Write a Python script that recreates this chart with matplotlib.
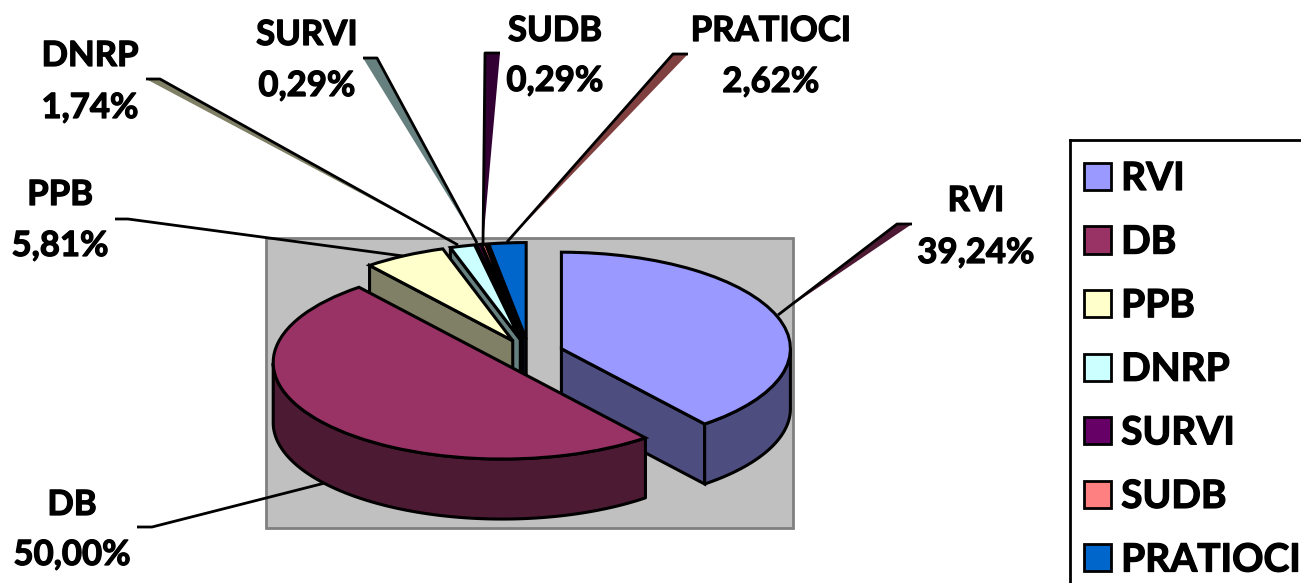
import numpy as np
import matplotlib
matplotlib.use("Agg")
import matplotlib.pyplot as plt
import matplotlib.patheffects as pe
from matplotlib.patches import Patch, Polygon, Rectangle

categories = ["RVI", "DB", "PPB", "DNRP", "SURVI", "SUDB", "PRATIOCI"]
values = [39.24, 50.00, 5.81, 1.74, 0.29, 0.29, 2.62]

colors = ["#9999FF", "#993366", "#FFFFCC", "#CCFFFF", "#660066", "#FF8080", "#0066CC"]
draw_rank = [0, 7, 5, 4, 3, 2, 1]

W, H = 1301, 583
CX, CY, RX, RY, DEPTH = 529.0, 353.5, 229.0, 96.5, 60.0
LW = 2.2

plt.rcParams["font.family"] = ["Lato", "DejaVu Sans"]
plt.rcParams["font.weight"] = "bold"
heavy = [pe.withStroke(linewidth=0.9, foreground="black")]

fig = plt.figure(figsize=(W / 100, H / 100), dpi=100, facecolor="white")

# pixel overlay for plot area, leaders, labels and legend
px = fig.add_axes([0, 0, 1, 1], zorder=1)
px.set_xlim(0, W)
px.set_ylim(H, 0)
px.axis("off")
px.add_patch(Rectangle((266, 238), 527, 290, fc="#C0C0C0", ec="#808080", lw=2.0))

# pie axes: one data unit is RX by RY pixels, so the circle is seen as an ellipse
ax = fig.add_axes([0, 0, 1, 1], zorder=2)
ax.patch.set_alpha(0)
wedges, _ = ax.pie(values, colors=colors, startangle=90, counterclock=False,
                   explode=[0.15] * len(values), radius=1,
                   wedgeprops=dict(edgecolor="black", linewidth=LW))
ax.set_aspect("auto")
ax.set_xlim(-CX / RX, (W - CX) / RX)
ax.set_ylim((CY - H) / RY, CY / RY)
ax.axis("off")
d = DEPTH / RY


def shade(c):
    return tuple(0.5 * v for v in matplotlib.colors.to_rgb(c))


for w, c, rank in zip(wedges, colors, draw_rank):
    z = 10 + 3 * rank
    w.set_zorder(z + 2)
    w.set_joinstyle("miter")
    cx, cy = w.center
    t1, t2 = w.theta1, w.theta2
    dark = shade(c)
    # radial faces turned to the viewer
    for t, visible in ((t2, np.cos(np.radians(t2)) < -1e-6), (t1, np.cos(np.radians(t1)) > 1e-6)):
        if visible:
            ex, ey = cx + np.cos(np.radians(t)), cy + np.sin(np.radians(t))
            ax.add_patch(Polygon([(cx, cy), (ex, ey), (ex, ey - d), (cx, cy - d)],
                                 fc=dark, ec="black", lw=LW, zorder=z, joinstyle="miter"))
    # outer rim wall
    th = np.radians(np.linspace(t1, t2, 300))
    th = th[np.sin(th) <= 0]
    if th.size > 1:
        xs, ys = cx + np.cos(th), cy + np.sin(th)
        pts = np.r_[np.c_[xs, ys], np.c_[xs[::-1], ys[::-1] - d]]
        ax.add_patch(Polygon(pts, fc=dark, ec="black", lw=LW, zorder=z + 1, joinstyle="round"))

# leader lines with their shadow slivers (pixel coordinates)
leaders = [
    ([(912, 224), (897, 224), (778, 315)], "#4D1933", [(897, 224), (912, 224), (785, 310)]),
    ([(115, 219), (128, 219), (403, 256)], None, None),
    ([(137, 527), (152, 527), (325, 483)], None, None),
    ([(146, 79), (160, 79), (458, 245)], "#808066", [(146, 79), (160, 79), (458, 245)]),
    ([(363, 58), (377, 58), (477, 243)], "#668080", [(363, 58), (377, 58), (477, 243)]),
    ([(500, 53), (485, 53), (483, 243)], "#330033", [(485, 53), (500, 53), (483, 243)]),
    ([(688, 54), (673, 54), (507, 242)], "#804040", [(673, 54), (688, 54), (507, 242)]),
]
for line, col, sliver in leaders:
    if sliver:
        px.add_patch(Polygon(sliver, fc=col, ec="none", zorder=3))
    xs, ys = zip(*line)
    px.plot(xs, ys, color="black", lw=2.0, zorder=4, solid_capstyle="butt")

label_pos = {
    "RVI": (976, 201, 253),
    "DB": (72, 505, 555),
    "PPB": (60, 195, 246),
    "DNRP": (90, 56, 108),
    "SURVI": (307, 35, 86),
    "SUDB": (555, 31, 81),
    "PRATIOCI": (771, 31, 82),
}
for name, val in zip(categories, values):
    x, y1, y2 = label_pos[name]
    px.text(x, y1, name, ha="center", va="center", fontsize=25, color="black",
            zorder=5, path_effects=heavy)
    px.text(x, y2, f"{val:.2f}%".replace(".", ","), ha="center", va="center",
            fontsize=25, color="black", zorder=5, path_effects=heavy)

# legend
px.plot([1070, 1070], [H, 140], color="black", lw=2.0, zorder=5)
px.plot([1070, W], [140, 140], color="black", lw=2.0, zorder=5)
handles = [Patch(fc=c, ec="black", lw=2.0) for c in colors]
leg = px.legend(handles, categories, loc="upper left", bbox_to_anchor=(1084 / W, 1 - 161 / H),
                frameon=False, fontsize=28, borderpad=0, borderaxespad=0,
                handlelength=0.695, handleheight=0.695, handletextpad=0.26, labelspacing=0.735)
leg.set_zorder(5)
for t in leg.get_texts():
    t.set_path_effects(heavy)

fig.savefig("out.png", dpi=100)
